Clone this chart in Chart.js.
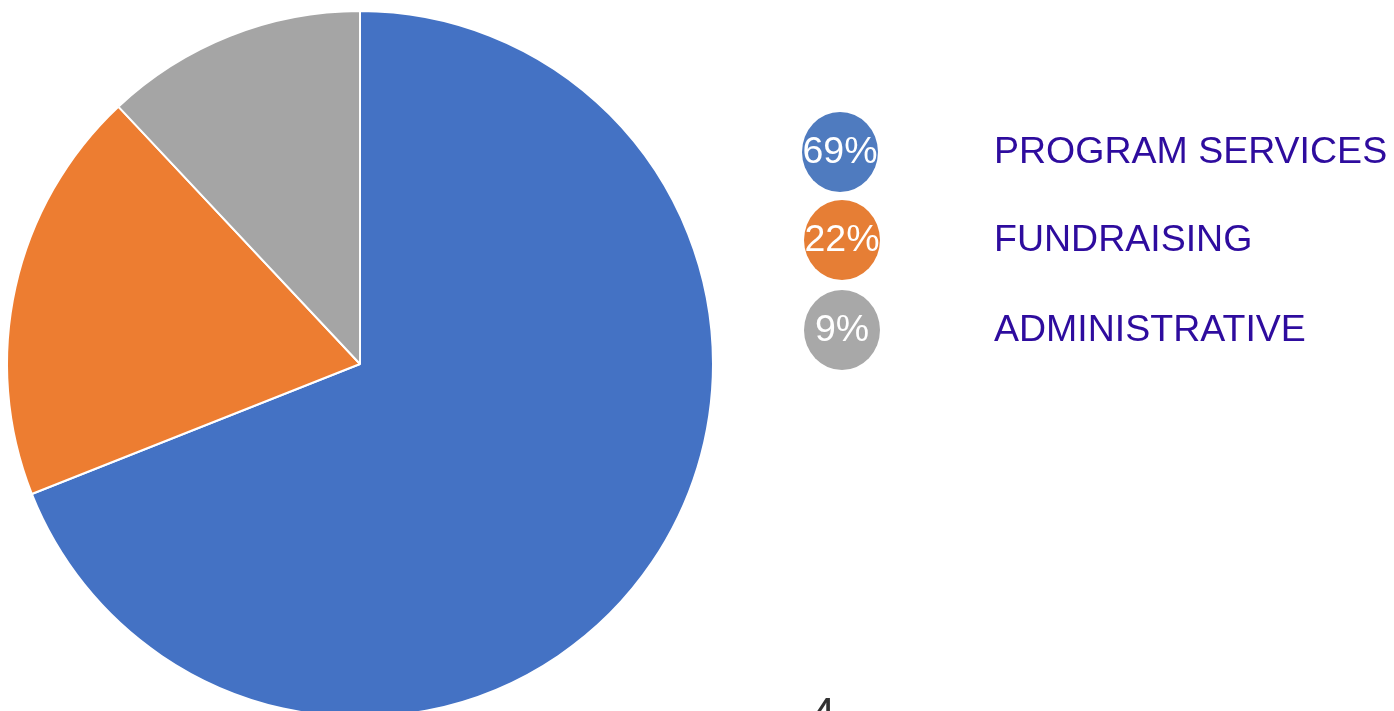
<!DOCTYPE html>
<html lang="en">
<head>
    <meta charset="UTF-8">
    <title>Expenses</title>
    <style>
        html, body {
            margin: 0;
            padding: 0;
            overflow: hidden;
            background: #fff;
            font-family: Arial, "Liberation Sans", sans-serif;
        }
        #wrap {
            position: absolute;
            left: 0;
            top: 0;
            width: 1394px;
            height: 730px;
        }
    </style>
    <script src="https://cdn.jsdelivr.net/npm/chart.js"></script>
</head>
<body>
    <div id="wrap">
        <canvas id="pieChart"></canvas>
    </div>
    <script>
        // slice sizes as drawn in the pie
        const categories = ['PROGRAM SERVICES', 'FUNDRAISING', 'ADMINISTRATIVE'];
        const sliceValues = [69, 19, 12];
        // percentages printed in the legend bubbles
        const legendPercents = ['69%', '22%', '9%'];

        const sliceColors = ['#4472c4', '#ed7d31', '#a5a5a5'];
        const bubbleColors = ['#4f7bbf', '#e67e35', '#a8a8a8'];
        const labelColor = '#2e0c9e';

        // legend + page number drawn on the same canvas
        const sideLegend = {
            id: 'sideLegend',
            afterDraw(chart) {
                const ctx = chart.ctx;
                const rows = [152, 240, 330];
                ctx.save();
                categories.forEach((name, i) => {
                    const y = rows[i];
                    const cx = i === 0 ? 840 : 842;
                    ctx.beginPath();
                    ctx.ellipse(cx, y, 38, 40, 0, 0, Math.PI * 2);
                    ctx.fillStyle = bubbleColors[i];
                    ctx.fill();

                    ctx.font = '37.5px Arial, "Liberation Sans", sans-serif';
                    ctx.fillStyle = '#ffffff';
                    ctx.textAlign = 'center';
                    ctx.textBaseline = 'middle';
                    ctx.fillText(legendPercents[i], cx, y + 1);

                    ctx.fillStyle = labelColor;
                    ctx.textAlign = 'left';
                    ctx.fillText(name, 994, y + 1);
                });

                // page number, mostly below the fold
                ctx.font = '44px Arial, "Liberation Sans", sans-serif';
                ctx.fillStyle = '#333333';
                ctx.textAlign = 'left';
                ctx.textBaseline = 'alphabetic';
                ctx.fillText('4', 811, 729);
                ctx.restore();
            }
        };

        const ctx = document.getElementById('pieChart').getContext('2d');
        new Chart(ctx, {
            type: 'pie',
            data: {
                labels: categories,
                datasets: [{
                    data: sliceValues,
                    backgroundColor: sliceColors,
                    borderColor: '#ffffff',
                    borderWidth: 2
                }]
            },
            options: {
                responsive: true,
                maintainAspectRatio: false,
                animation: false,
                layout: {
                    padding: { left: 6, top: 10, right: 680, bottom: 12 }
                },
                plugins: {
                    legend: { display: false },
                    tooltip: { enabled: false }
                }
            },
            plugins: [sideLegend]
        });
    </script>
</body>
</html>
